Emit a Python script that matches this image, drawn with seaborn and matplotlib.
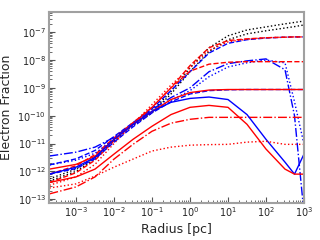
import numpy as np
import pandas as pd
import matplotlib
matplotlib.use("Agg")
import matplotlib.pyplot as plt
import seaborn as sns

log_radius = [-3.7, -3.0, -2.5, -2.0, -1.5, -1.0, -0.5, 0.0, 0.5, 1.0, 1.5, 2.0, 2.5, 2.75, 3.0]

# log10 electron fraction for each model curve
black_dot_a = [-12.27, -11.92, -11.49, -10.85, -10.31, -9.85, -9.13, -8.28, -7.56, -7.13, -6.92, -6.81, -6.70, -6.65, -6.60]
black_dot_b = [-12.35, -12.00, -11.55, -10.90, -10.35, -9.90, -9.22, -8.42, -7.70, -7.27, -7.06, -6.95, -6.85, -6.80, -6.74]
red_dash_hi = [-12.10, -11.80, -11.40, -10.80, -10.25, -9.70, -9.00, -8.20, -7.56, -7.30, -7.24, -7.20, -7.18, -7.17, -7.17]
blue_dash_hi = [-11.77, -11.55, -11.25, -10.75, -10.25, -9.75, -9.10, -8.42, -7.75, -7.40, -7.27, -7.21, -7.18, -7.17, -7.17]
red_dot_hi = [-12.50, -12.20, -11.75, -11.00, -10.30, -9.60, -8.90, -8.28, -7.65, -7.35, -7.25, -7.20, -7.18, -7.17, -7.17]
red_dash_mid = [-12.40, -12.05, -11.60, -10.90, -10.30, -9.70, -9.00, -8.40, -8.15, -8.08, -8.06, -8.06, -8.06, -8.06, -8.06]
blue_dashdot = [-11.45, -11.31, -11.13, -10.78, -10.31, -9.78, -9.35, -9.00, -8.42, -8.13, -8.03, -7.96, -8.35, -10.00, -13.50]
blue_dot = [-11.77, -11.60, -11.35, -10.85, -10.35, -9.85, -9.45, -9.10, -8.60, -8.25, -8.10, -8.00, -8.10, -9.50, -11.03]
red_solid_flat = [-11.92, -11.75, -11.46, -10.85, -10.31, -9.85, -9.42, -9.17, -9.08, -9.06, -9.06, -9.06, -9.06, -9.06, -9.06]
blue_dash_flat = [-12.10, -11.90, -11.55, -10.95, -10.40, -9.90, -9.50, -9.22, -9.10, -9.07, -9.06, -9.06, -9.06, -9.06, -9.06]
red_dashdot_low = [-12.81, -12.56, -12.20, -11.56, -11.03, -10.56, -10.27, -10.13, -10.06, -10.06, -10.06, -10.06, -10.06, -10.06, -10.06]
blue_solid = [-12.10, -11.85, -11.50, -10.85, -10.31, -9.85, -9.52, -9.38, -9.33, -9.42, -9.96, -10.85, -11.67, -12.10, -11.38]
red_solid_peak = [-12.40, -12.20, -11.92, -11.38, -10.85, -10.38, -9.96, -9.70, -9.63, -9.70, -10.31, -11.20, -11.92, -12.10, -12.10]
red_dot_low = [-12.60, -12.45, -12.17, -11.85, -11.56, -11.27, -11.13, -11.06, -11.04, -11.03, -10.95, -10.92, -11.03, -11.03, -11.03]

x_ticks = [1e-3, 1e-2, 1e-1, 1e0, 1e1, 1e2, 1e3]
y_ticks = [1e-13, 1e-12, 1e-11, 1e-10, 1e-9, 1e-8, 1e-7]

curves = [
    (black_dot_a, "k", ":"),
    (black_dot_b, "k", ":"),
    (blue_dash_hi, "b", "--"),
    (red_dash_hi, "r", "--"),
    (red_dot_hi, "r", ":"),
    (blue_dashdot, "b", "-."),
    (blue_dot, "b", ":"),
    (red_dash_mid, "r", "--"),
    (blue_dash_flat, "b", "--"),
    (red_solid_flat, "r", "-"),
    (red_dashdot_low, "r", "-."),
    (blue_solid, "b", "-"),
    (red_solid_peak, "r", "-"),
    (red_dot_low, "r", ":"),
]

sns.set_style("ticks")
plt.rcParams["font.family"] = ["DejaVu Sans"]

fig = plt.figure(figsize=(3.2, 2.4), dpi=100)
ax = fig.add_axes([0.152, 0.155, 0.798, 0.795])
ax.set_xscale("log")
ax.set_yscale("log")

radius = 10.0 ** np.array(log_radius)
for vals, col, ls in curves:
    df = pd.DataFrame({"r": radius, "xe": 10.0 ** np.array(vals)})
    sns.lineplot(data=df, x="r", y="xe", ax=ax, color=col, linestyle=ls,
                 linewidth=1.0, estimator=None, legend=False)

ax.set_xticks(x_ticks)
ax.set_yticks(y_ticks)
ax.set_xlim(10 ** -3.72, 1e3)
ax.set_ylim(10 ** -13.13, 10 ** -6.275)
ax.set_xlabel("Radius [pc]", fontsize=9)
ax.set_ylabel("Electron Fraction", fontsize=9)
ax.xaxis.set_label_coords(0.5, -0.105)
ax.yaxis.set_label_coords(-0.14, 0.5)

ax.tick_params(which="both", direction="in", labelsize=7, color="#555555", pad=2)
ax.tick_params(which="major", length=4, width=0.8)
ax.tick_params(which="minor", length=2, width=0.6)
for s in ax.spines.values():
    s.set_color("#a0a0a0")
    s.set_linewidth(1.5)

fig.savefig("out.png", dpi=100)
